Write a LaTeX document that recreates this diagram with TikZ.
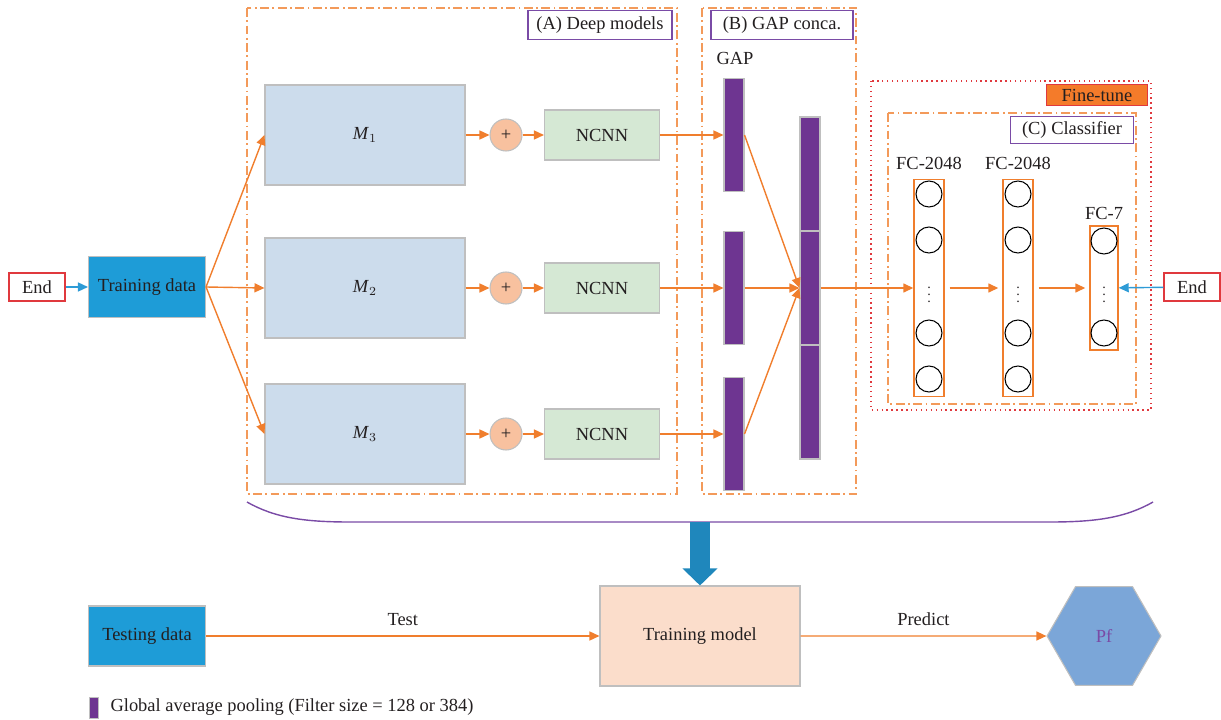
\documentclass[tikz,border=0pt]{standalone}
\usepackage{fontspec}
\setmainfont{Liberation Serif}
\usepackage{xcolor}
\usepackage{tikz}
\usetikzlibrary{arrows.meta,positioning,calc,shapes.geometric}
\definecolor{lineor}{HTML}{F07E2D}
\definecolor{frameor}{HTML}{F39A5A}
\definecolor{gappurple}{HTML}{6E3591}
\definecolor{tagpurple}{HTML}{7A4BA6}
\definecolor{tdblue}{HTML}{1E9CD7}
\definecolor{mblue}{HTML}{CCDCEC}
\definecolor{ncgreen}{HTML}{D5E8D4}
\definecolor{plusor}{HTML}{F8C19F}
\definecolor{tmpeach}{HTML}{FBDDCB}
\definecolor{pfblue}{HTML}{7BA6D8}
\definecolor{endred}{HTML}{E0393E}
\definecolor{endblue}{HTML}{2E9BD6}
\definecolor{bigblue}{HTML}{1F87BC}
\definecolor{edgegray}{HTML}{BFBFBF}
\definecolor{tuneor}{HTML}{F47B2A}
\definecolor{txtgray}{HTML}{231F20}

\tikzset{
  box/.style={draw=edgegray,line width=0.6pt,inner sep=0pt,align=center},
  endbox/.style={draw=endred,fill=white,line width=0.6pt,minimum width=11.2mm,minimum height=5.6mm,inner sep=0pt},
  tag/.style={draw=tagpurple,fill=white,line width=0.7pt,inner sep=0pt},
  flow/.style={draw=lineor,line width=0.8pt,-{Triangle[length=2mm,width=1.8mm]}},
  inflow/.style={draw=endblue,line width=0.8pt,-{Triangle[length=2mm,width=1.8mm]}},
  frame/.style={draw=frameor,line width=0.8pt,dash pattern=on 5pt off 2pt on 1pt off 2pt},
  gapbar/.style={draw=edgegray,fill=gappurple,line width=0.6pt,minimum width=4mm,inner sep=0pt},
  fccol/.style={draw=lineor,line width=0.8pt,minimum width=6mm,inner sep=0pt},
  unit/.style={circle,draw=black,line width=0.6pt,minimum size=5.2mm,inner sep=0pt},
  vdot/.style={inner sep=0pt,font=\footnotesize},
}

\begin{document}
\begin{tikzpicture}[x=0.2mm,y=-0.2mm,font=\fontsize{10.5}{12}\selectfont,text=txtgray]
  \useasboundingbox (0,0) rectangle (1221,720);

  % frames and their tags
  \draw[frame] (247,8) rectangle (677,494);
  \draw[frame] (702,8) rectangle (856,494);
  \draw[draw=endred,line width=0.8pt,dotted] (871,81) rectangle (1151,410);
  \draw[frame] (888,113) rectangle (1136,404);
  \node[tag,minimum width=28.8mm,minimum height=5.8mm] (tagA) at (600,25){(A) Deep models};
  \node[tag,minimum width=28.4mm,minimum height=5.8mm] (tagB) at (782,25){(B) GAP conca.};
  \node[tag,minimum width=24.6mm,minimum height=5.4mm] (tagC) at (1072,130){(C) Classifier};
  \node[draw=endred,fill=tuneor,line width=0.7pt,minimum width=20.2mm,minimum height=4.2mm,inner sep=0pt] (tune) at (1097,95){Fine-tune};
  \node (gaplbl) at (735,58){GAP};

  % input side
  \node[endbox] (endL) at (37,287){End};
  \node[box,fill=tdblue,minimum width=23.4mm,minimum height=12.2mm] (train) at (147,287){Training data};
  \draw[inflow] (endL)--(train);

  % three branches
  \foreach \i/\y in {1/135,2/288,3/434}{
    \node[box,fill=mblue,minimum width=40mm,minimum height=20mm] (m\i) at (365,\y){\textit{M}$_\i$};
    \node[box,circle,fill=plusor,minimum size=6.4mm] (plus\i) at (506,\y){+};
    \node[box,fill=ncgreen,minimum width=23mm,minimum height=10mm] (ncnn\i) at (602,\y){NCNN};
    \node[gapbar,minimum height=22.6mm] (gap\i) at (734,\y){};
    \draw[flow] (train.east)--(m\i.west);
    \draw[flow] (m\i)--(plus\i);
    \draw[flow] (plus\i)--(ncnn\i);
    \draw[flow] (ncnn\i)--(gap\i);
  }

  % concatenated vector
  \foreach \i/\y in {1/174,2/288,3/402}{
    \node[gapbar,minimum height=22.8mm] (cat\i) at (810,\y){};
  }
  \foreach \i in {1,2,3}{
    \draw[flow] (gap\i.east)--(cat2.west);
  }

  % classifier columns
  \node[fccol,minimum height=43.4mm] (fcA) at (929,288){};
  \node[fccol,minimum height=43.4mm] (fcB) at (1018,288){};
  \node[fccol,minimum width=5.6mm,minimum height=24.8mm] (fcC) at (1104,288){};
  \foreach \c/\x in {A/929,B/1018}{
    \foreach \j/\y in {1/194,2/240,3/333,4/379}{
      \node[unit] (u\c\j) at (\x,\y){};
    }
    \node[vdot] (dots\c) at (\x,290){$\vdots$};
  }
  \node[unit] (uC1) at (1104,241){};
  \node[unit] (uC2) at (1104,333){};
  \node[vdot] (dotsC) at (1104,290){$\vdots$};
  \node (lblA) at (929,163){FC-2048};
  \node (lblB) at (1018,163){FC-2048};
  \node (lblC) at (1104,213){FC-7};
  \draw[flow] (cat2.east)--(fcA.west);
  \draw[flow,shorten <=1mm,shorten >=0.8mm] (fcA.east)--(fcB.west);
  \draw[flow,shorten <=1mm,shorten >=0.8mm] (fcB.east)--(fcC.west);
  \node[endbox] (endR) at (1192,287){End};
  \draw[inflow] (endR)--(fcC);

  % brace over the model
  \draw[draw=tagpurple,line width=0.8pt] (247,502) .. controls (275,518) and (305,522) .. (350,522)
    -- (1050,522) .. controls (1095,522) and (1125,518) .. (1153,502);
  \coordinate (brace) at (700,522);

  % test stage
  \node[box,fill=tdblue,minimum width=23.4mm,minimum height=12mm] (test) at (147,636){Testing data};
  \node[box,fill=tmpeach,minimum width=40mm,minimum height=20mm] (tmodel) at (700,636){Training model};
  \node[regular polygon,regular polygon sides=6,draw=edgegray,fill=pfblue,line width=0.6pt,minimum size=22.8mm,inner sep=0pt,text=tagpurple] (pf) at (1104,636){Pf};
  \draw[draw=bigblue,line width=4mm,-{Triangle[length=3.4mm,width=6.8mm]}] (brace)--(tmodel.north);
  \draw[flow] (test)--node[above=0.8mm]{Test}(tmodel);
  \draw[flow] (tmodel)--node[above=0.8mm]{Predict}(pf);

  % legend
  \node[draw=edgegray,fill=gappurple,minimum width=1.8mm,minimum height=4.2mm,inner sep=0pt] (legbar) at (93.5,707.5){};
  \node[right=1.2mm of legbar] (legtxt){Global average pooling (Filter size = 128 or 384)};
\end{tikzpicture}
\end{document}
